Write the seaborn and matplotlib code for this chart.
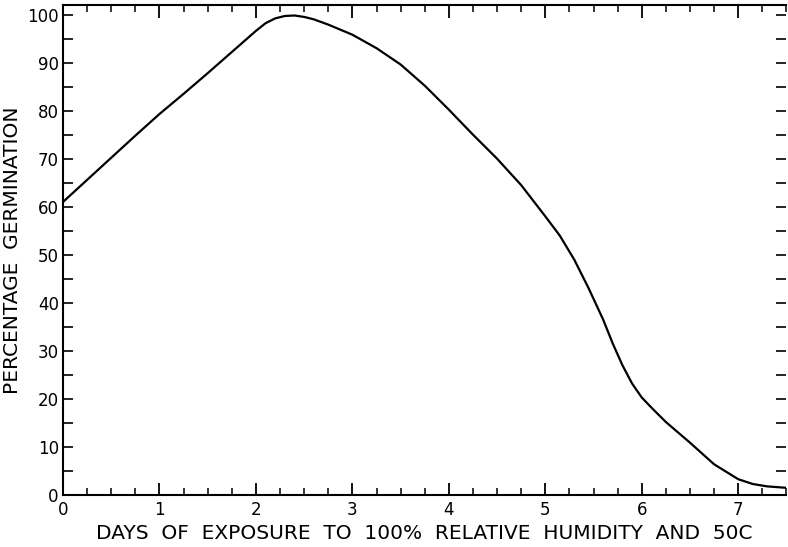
import numpy as np
import matplotlib
matplotlib.use('Agg')
import matplotlib.pyplot as plt
import seaborn as sns
import pandas as pd
from matplotlib.ticker import MultipleLocator

sns.set_style('white')
plt.rcParams['font.family'] = ['DejaVu Sans']
plt.rcParams['text.color'] = 'black'
plt.rcParams['axes.labelcolor'] = 'black'
plt.rcParams['xtick.color'] = 'black'
plt.rcParams['ytick.color'] = 'black'

# values
days = [0.0, 0.25, 0.5, 0.75, 1.0, 1.25, 1.5, 1.75, 2.0, 2.1, 2.2, 2.3, 2.4,
        2.5, 2.6, 2.75, 3.0, 3.25, 3.5, 3.75, 4.0, 4.25, 4.5, 4.75, 5.0,
        5.15, 5.3, 5.45, 5.6, 5.7, 5.8, 5.9, 6.0, 6.1, 6.25, 6.5, 6.75,
        7.0, 7.15, 7.3, 7.5]
germination = [61.0, 65.6, 70.2, 74.8, 79.3, 83.5, 87.8, 92.2, 96.6, 98.2,
               99.2, 99.7, 99.8, 99.5, 99.0, 97.9, 95.8, 93.0, 89.6, 85.2,
               80.2, 75.0, 70.0, 64.5, 58.0, 54.0, 49.0, 43.0, 36.5, 31.5,
               27.0, 23.2, 20.3, 18.2, 15.2, 10.9, 6.4, 3.3, 2.3, 1.8, 1.5]

df = pd.DataFrame({'days': days, 'germination': germination})

fig = plt.figure(figsize=(7.88, 5.47), dpi=100)
ax = fig.add_axes([0.08, 0.095, 0.918, 0.896])

sns.lineplot(data=df, x='days', y='germination', color='black', linewidth=1.6, ax=ax)

ax.set_xlim(0, 7.5)
ax.set_ylim(0, 102)
ax.xaxis.set_major_locator(MultipleLocator(1))
ax.xaxis.set_minor_locator(MultipleLocator(0.25))
ax.yaxis.set_major_locator(MultipleLocator(10))
ax.yaxis.set_minor_locator(MultipleLocator(5))

ax.tick_params(axis='x', which='major', direction='in', length=9, width=1.3,
               top=True, bottom=True, labelsize=12, pad=4)
ax.tick_params(axis='x', which='minor', direction='in', length=5, width=1.1,
               top=True, bottom=True)
ax.tick_params(axis='y', which='both', direction='in', length=7, width=1.2,
               left=True, right=True, labelsize=12, pad=3)

for side in ['left', 'bottom', 'top']:
    ax.spines[side].set_linewidth(1.5)
    ax.spines[side].set_color('black')
ax.spines['right'].set_visible(False)

ax.set_xlabel('DAYS  OF  EXPOSURE  TO  100%  RELATIVE  HUMIDITY  AND  50C',
              fontsize=14.5, labelpad=4)
ax.set_ylabel('PERCENTAGE  GERMINATION', fontsize=14.5, labelpad=4)

plt.savefig('out.png', dpi=100)
